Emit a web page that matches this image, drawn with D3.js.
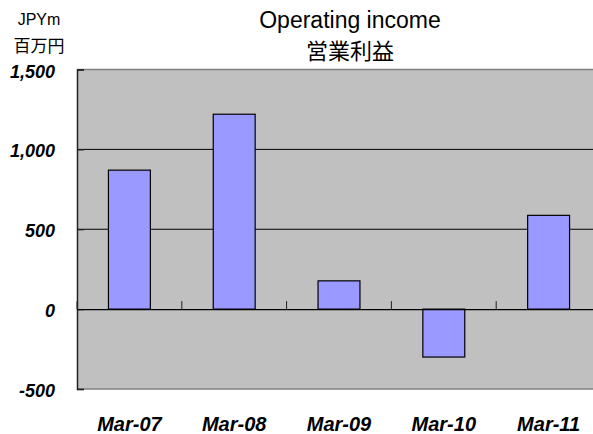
<!DOCTYPE html>
<html>
<head>
<meta charset="utf-8">
<script src="https://cdn.jsdelivr.net/npm/d3@7"></script>
<style>
  body { margin: 0; background: #fff; }
  svg { display: block; }
  text { font-family: "Liberation Sans", Arial, sans-serif; }
</style>
</head>
<body>
<div id="chart"></div>
<script>
// data
var categories = ['Mar-07', 'Mar-08', 'Mar-09', 'Mar-10', 'Mar-11'];
var values = [870, 1220, 177, -300, 587];
var yTicks = [-500, 0, 500, 1000, 1500];
var titleLines = ['Operating income', '営業利益'];
var unitLines = ['JPYm', '百万円'];

var W = 593, H = 434;
var margin = {top: 69.5, left: 77, plotW: 524, plotH: 319.5};

var svg = d3.select('#chart').append('svg')
  .attr('width', W)
  .attr('height', H);

var x = d3.scaleBand()
  .domain(categories)
  .range([margin.left, margin.left + margin.plotW])
  .paddingInner(0)
  .paddingOuter(0);

var y = d3.scaleLinear()
  .domain([-500, 1500])
  .range([margin.top + margin.plotH, margin.top]);

// plot background
svg.append('rect')
  .attr('x', margin.left)
  .attr('y', margin.top)
  .attr('width', margin.plotW)
  .attr('height', margin.plotH)
  .attr('fill', '#c0c0c0');

// plot border top/bottom
svg.append('line')
  .attr('x1', margin.left).attr('x2', margin.left + margin.plotW)
  .attr('y1', margin.top).attr('y2', margin.top)
  .attr('stroke', '#808080').attr('stroke-width', 1.5);
svg.append('line')
  .attr('x1', margin.left).attr('x2', margin.left + margin.plotW)
  .attr('y1', margin.top + margin.plotH).attr('y2', margin.top + margin.plotH)
  .attr('stroke', '#808080').attr('stroke-width', 1.5);

// gridlines
svg.append('g')
  .selectAll('line')
  .data(yTicks.filter(function (d) { return d !== -500 && d !== 1500 && d !== 0; }))
  .enter()
  .append('line')
  .attr('x1', margin.left).attr('x2', margin.left + margin.plotW)
  .attr('y1', function (d) { return y(d); })
  .attr('y2', function (d) { return y(d); })
  .attr('stroke', '#000').attr('stroke-width', 1);

// y axis
var yAxis = svg.append('g')
  .attr('transform', 'translate(' + margin.left + ',0)')
  .call(d3.axisRight(y).tickValues(yTicks).tickSize(7).tickFormat(''));
yAxis.select('.domain').attr('stroke', '#222').attr('stroke-width', 1.5);
yAxis.selectAll('.tick line').attr('stroke', '#222').attr('stroke-width', 1.2);

svg.append('g')
  .selectAll('text')
  .data(yTicks)
  .enter()
  .append('text')
  .attr('x', 55)
  .attr('y', function (d) { return y(d) + 8; })
  .attr('text-anchor', 'end')
  .attr('font-size', 18)
  .attr('font-weight', 'bold')
  .attr('font-style', 'italic')
  .text(function (d) { return d3.format(',')(d).replace('−', '-'); });

// bars
svg.append('g')
  .selectAll('rect')
  .data(values)
  .enter()
  .append('rect')
  .attr('x', function (d, i) { return x(categories[i]) + x.bandwidth() * 0.3; })
  .attr('width', x.bandwidth() * 0.4)
  .attr('y', function (d) { return y(Math.max(0, d)); })
  .attr('height', function (d) { return Math.abs(y(d) - y(0)); })
  .attr('fill', '#9999ff')
  .attr('stroke', '#000')
  .attr('stroke-width', 1.2);

// zero line with category ticks pointing up
var xAxis = svg.append('g')
  .attr('transform', 'translate(0,' + y(0) + ')')
  .call(d3.axisTop(x).tickSize(0).tickFormat(''));
xAxis.select('.domain').attr('stroke', '#000').attr('stroke-width', 1.2);

svg.append('g')
  .selectAll('line')
  .data(categories)
  .enter()
  .append('line')
  .attr('x1', function (d) { return x(d); })
  .attr('x2', function (d) { return x(d); })
  .attr('y1', y(0))
  .attr('y2', y(0) - 8)
  .attr('stroke', '#222')
  .attr('stroke-width', 1);

// category labels
svg.append('g')
  .selectAll('text')
  .data(categories)
  .enter()
  .append('text')
  .attr('x', function (d) { return x(d) + x.bandwidth() / 2; })
  .attr('y', 431)
  .attr('text-anchor', 'middle')
  .attr('font-size', 20)
  .attr('font-weight', 'bold')
  .attr('font-style', 'italic')
  .text(function (d) { return d; });

// title
svg.append('g')
  .selectAll('text')
  .data(titleLines)
  .enter()
  .append('text')
  .attr('x', 350)
  .attr('y', function (d, i) { return 28 + i * 31; })
  .attr('text-anchor', 'middle')
  .attr('font-size', function (d, i) { return i === 0 ? 23 : 22; })
  .style('font-family', function (d, i) { return i === 0 ? null : '"Noto Sans CJK JP", sans-serif'; })
  .text(function (d) { return d; });

// unit label
svg.append('g')
  .selectAll('text')
  .data(unitLines)
  .enter()
  .append('text')
  .attr('x', 39)
  .attr('y', function (d, i) { return 25 + i * 27; })
  .attr('text-anchor', 'middle')
  .attr('font-size', function (d, i) { return i === 0 ? 16 : 17; })
  .style('font-family', function (d, i) { return i === 0 ? null : '"Noto Sans CJK JP", sans-serif'; })
  .text(function (d) { return d; });
</script>
</body>
</html>
